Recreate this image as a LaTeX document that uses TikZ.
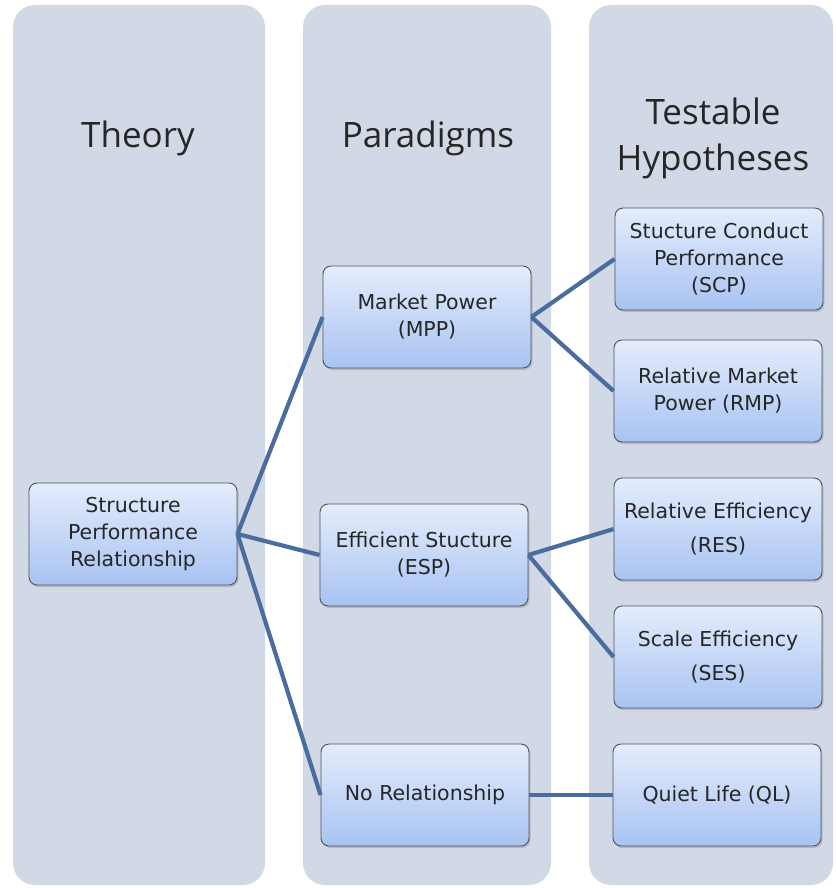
\documentclass[tikz,border=0pt]{standalone}
\usepackage{fontspec}
\setmainfont{DejaVu Sans}
\newfontfamily\headfont{Open Sans}
\usetikzlibrary{shadows}
\definecolor{colfill}{HTML}{D2D9E6}
\definecolor{boxtop}{HTML}{E4ECFC}
\definecolor{boxbot}{HTML}{A8C3F2}
\definecolor{boxedge}{HTML}{4C525C}
\definecolor{linkcol}{HTML}{4A6C9E}
\tikzset{
  column/.style={fill=colfill, rounded corners=22pt},
  head/.style={font=\headfont\fontsize{35}{46}\selectfont, text=black!85, align=center},
  item/.style={draw=boxedge, line width=0.9pt, rounded corners=8pt,
    top color=boxtop, bottom color=boxbot,
    minimum width=208pt, minimum height=102pt, align=center, inner sep=0pt,
    font=\fontsize{20.5}{27}\selectfont, text=black!85,
    drop shadow={opacity=0.35, shadow xshift=1.5pt, shadow yshift=-2pt}},
  link/.style={draw=linkcol, line width=4.2pt}
}
\begin{document}
\begin{tikzpicture}[x=1pt,y=-1pt]
\useasboundingbox (0,0) rectangle (835,888);
% column panels
\fill[column] (13,5) rectangle (265,885);
\fill[column] (303,5) rectangle (551,885);
\fill[column] (589,5) rectangle (833,885);
% column headings
\node[head] (hth) at (138,138) {Theory};
\node[head] (hpa) at (428,138) {Paradigms};
\node[head] (hte) at (713,138) {Testable\\Hypotheses};
% boxes
\node[item] (spr) at (133,534) {Structure\\Performance\\Relationship};
\node[item] (mpp) at (427,317) {Market Power\\(MPP)};
\node[item] (esp) at (424,555) {Efficient Stucture\\(ESP)};
\node[item] (nr)  at (425,795) {No Relationship};
\node[item] (scp) at (719,259) {Stucture Conduct\\Performance\\(SCP)};
\node[item] (rmp) at (718,391) {Relative Market\\Power (RMP)};
\node[item, font=\fontsize{20.5}{34}\selectfont] (res) at (718,529) {Relative Efficiency\\(RES)};
\node[item, font=\fontsize{20.5}{34}\selectfont] (ses) at (718,657) {Scale Efficiency\\(SES)};
\node[item] (ql)  at (717,795) {Quiet Life (QL)};
% connectors
\draw[link] (spr.east) -- (mpp.west);
\draw[link] (spr.east) -- (esp.west);
\draw[link] (spr.east) -- (nr.west);
\draw[link] (mpp.east) -- (scp.west);
\draw[link] (mpp.east) -- (rmp.west);
\draw[link] (esp.east) -- (res.west);
\draw[link] (esp.east) -- (ses.west);
\draw[link] (nr.east) -- (ql.west);
\end{tikzpicture}
\end{document}
